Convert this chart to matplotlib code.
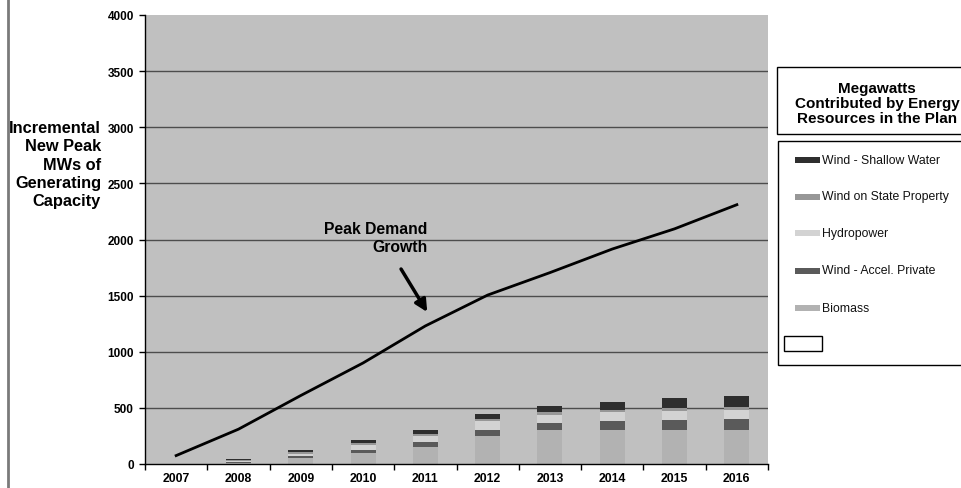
import numpy as np
import matplotlib
matplotlib.use("Agg")
import matplotlib.pyplot as plt
from matplotlib.patches import Rectangle
from matplotlib.lines import Line2D

plt.rcParams['font.family'] = ['Liberation Sans', 'DejaVu Sans']

years = ['2007', '2008', '2009', '2010', '2011', '2012', '2013', '2014', '2015', '2016']
peak_demand = [75, 310, 610, 900, 1230, 1505, 1705, 1915, 2095, 2310]

# Stacked resources, bottom to top
series_names = ['Biomass', 'Wind - Accel. Private', 'Hydropower',
                'Wind on State Property', 'Wind - Shallow Water']
biomass = [0, 12, 50, 98, 151, 252, 303, 303, 303, 303]
wind_accel = [0, 9, 20, 30, 42, 51, 62, 77, 89, 98]
hydropower = [0, 9, 22, 44, 59, 77, 74, 80, 77, 83]
wind_state = [0, 8, 12, 15, 15, 21, 21, 24, 27, 27]
wind_shallow = [0, 7, 21, 24, 36, 44, 60, 66, 89, 92]
series_values = [biomass, wind_accel, hydropower, wind_state, wind_shallow]
series_colors = ['#b2b2b2', '#5a5a5a', '#d3d3d3', '#979797', '#2e2e2e']

W, H = 961, 489
fig = plt.figure(figsize=(W / 100, H / 100), dpi=100)
fig.patch.set_facecolor('white')

def fx(p):
    return p / W

def fy(p):
    return 1 - p / H

ax = fig.add_axes([fx(145), fy(465), fx(768) - fx(145), fy(16) - fy(465)])
ax.set_facecolor('#c0c0c0')
ax.set_xlim(-0.5, len(years) - 0.5)
ax.set_ylim(0, 4000)

for v in range(500, 4000, 500):
    ax.axhline(v, color='#4d4d4d', lw=1.0, zorder=1)

x = np.arange(len(years))
bottom = np.zeros(len(years))
for name, vals, col in zip(series_names, series_values, series_colors):
    ax.bar(x, vals, width=0.4, bottom=bottom, color=col, label=name, zorder=2,
           edgecolor='none')
    bottom += np.array(vals)

ax.plot(x, peak_demand, color='black', lw=2, zorder=3)

ax.annotate('', xy=(4.03, 1354), xytext=(3.61, 1737),
            arrowprops=dict(arrowstyle='-|>', lw=2.5, mutation_scale=18,
                            color='black', shrinkA=0, shrinkB=0), zorder=4)
ax.text(4.03, 2018, 'Peak Demand\nGrowth', ha='right', va='center',
        multialignment='right', fontsize=11.3, fontweight='bold', zorder=4,
        linespacing=1.2)

for s in ['top', 'right']:
    ax.spines[s].set_visible(False)
for s in ['left', 'bottom']:
    ax.spines[s].set_color('black')
    ax.spines[s].set_linewidth(1)

ax.set_yticks(range(0, 4001, 500))
ax.set_yticklabels([str(v) for v in range(0, 4001, 500)], fontsize=8.5,
                   fontweight='bold')
ax.set_xticks(x)
ax.set_xticklabels(years, fontsize=8.8, fontweight='bold')
ax.set_xticks(np.arange(-0.5, len(years) + 0.5, 1), minor=True)
ax.tick_params(axis='x', which='major', length=0, pad=6)
ax.tick_params(axis='x', which='minor', length=4, direction='out', width=1)
ax.tick_params(axis='y', length=4, direction='out', width=1, pad=4)

fig.text(fx(101), fy(165), 'Incremental\nNew Peak\nMWs of\nGenerating\nCapacity',
         ha='right', va='center', multialignment='right', fontsize=11.8,
         fontweight='bold', linespacing=1.28)

# Left border line
fig.add_artist(Line2D([fx(8), fx(8)], [0, 1], color='#7a7a7a', lw=2))

# Legend title box
fig.add_artist(Rectangle((fx(777), fy(135)), fx(990) - fx(777), fy(68) - fy(135),
                         facecolor='white', edgecolor='black', lw=1))
fig.text(fx(877), fy(104), 'Megawatts\nContributed by Energy\nResources in the Plan',
         ha='center', va='center', multialignment='center', fontsize=11,
         fontweight='bold', linespacing=1.12)

# Legend entries box
fig.add_artist(Rectangle((fx(778), fy(366)), fx(990) - fx(778), fy(142) - fy(366),
                         facecolor='white', edgecolor='black', lw=1))
entry_y = [161, 197.5, 234, 271.5, 309]
for yy, name, col in zip(entry_y, series_names[::-1], series_colors[::-1]):
    fig.add_artist(Rectangle((fx(795), fy(yy + 3)), fx(820) - fx(795),
                             fy(yy - 3) - fy(yy + 3), facecolor=col, edgecolor='none'))
    fig.text(fx(822), fy(yy), name, ha='left', va='center', fontsize=8.8,
             color='#111111')
fig.add_artist(Rectangle((fx(784), fy(352)), fx(822) - fx(784), fy(337) - fy(352),
                         facecolor='white', edgecolor='black', lw=1))

fig.savefig('out.png', dpi=100)
